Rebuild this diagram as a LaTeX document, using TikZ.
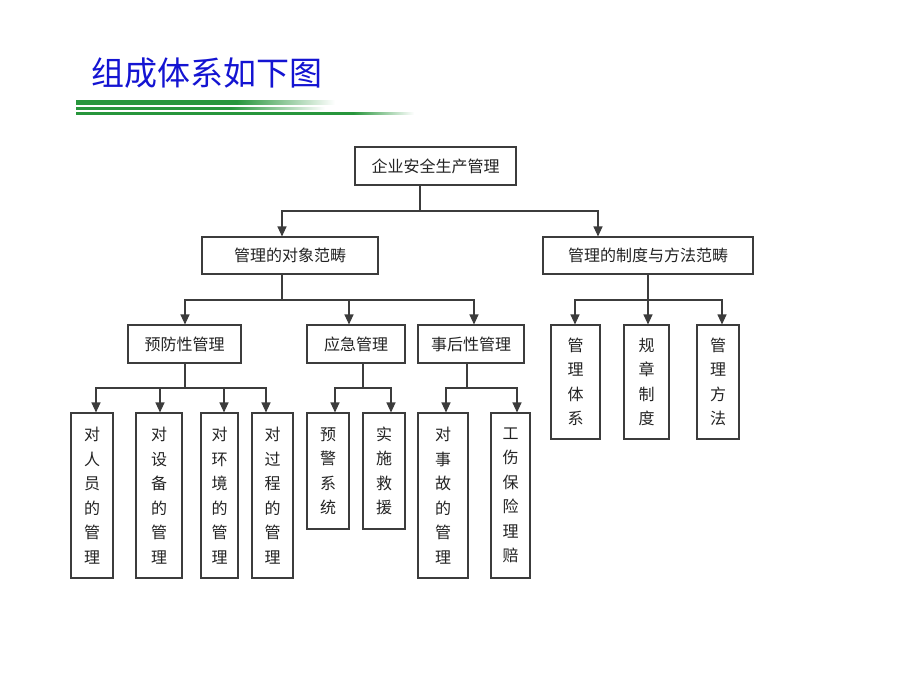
\documentclass[tikz,border=0pt]{standalone}
\usepackage{fontspec}
\newfontfamily\cjk{Noto Sans CJK SC}
\usetikzlibrary{arrows.meta}
\definecolor{titleblue}{RGB}{20,20,210}
\definecolor{lgreen}{RGB}{40,150,60}
\definecolor{boxline}{RGB}{60,60,60}
\definecolor{txt}{RGB}{35,35,35}
\pgfdeclarehorizontalshading{fadeA}{100bp}{color(0bp)=(lgreen); color(25bp)=(lgreen); color(56bp)=(lgreen); color(75bp)=(white); color(100bp)=(white)}
\pgfdeclarehorizontalshading{fadeB}{100bp}{color(0bp)=(lgreen); color(25bp)=(lgreen); color(66bp)=(lgreen); color(75bp)=(white); color(100bp)=(white)}
\begin{document}
\begin{tikzpicture}[x=1pt,y=-1pt,
  box/.style={draw=boxline,line width=1.1pt,inner sep=0pt,
    font=\cjk\fontsize{16}{24.5}\selectfont,text=txt,align=center},
  conn/.style={draw=boxline,line width=1.1pt},
  arr/.style={conn,-{Triangle[width=9pt,length=10pt]}}]
\useasboundingbox (0,0) rectangle (920,690);
\fill[white] (0,0) rectangle (920,690);

% title and decorative lines
\node[anchor=west,inner sep=0pt,font=\cjk\fontsize{33}{33}\selectfont,text=titleblue] (title) at (91,73) {组成体系如下图};
\shade[shading=fadeA] (76,101) rectangle (335,104.5);
\shade[shading=fadeA] (76,107.5) rectangle (325,110);
\shade[shading=fadeB] (76,113) rectangle (414,114.8);

% nodes
\node[box,minimum width=161pt,minimum height=38pt] (root) at (435.5,166) {企业安全生产管理};
\node[box,minimum width=176pt,minimum height=37pt] (l1a) at (290,255.5) {管理的对象范畴};
\node[box,minimum width=210pt,minimum height=37pt] (l1b) at (648,255.5) {管理的制度与方法范畴};

\node[box,minimum width=113pt,minimum height=38pt] (p1) at (184.5,344) {预防性管理};
\node[box,minimum width=98pt,minimum height=38pt] (p2) at (356,344) {应急管理};
\node[box,minimum width=106pt,minimum height=38pt] (p3) at (471,344) {事后性管理};

\node[box,minimum width=49pt,minimum height=114pt] (q1) at (575.5,382) {管\\理\\体\\系};
\node[box,minimum width=45pt,minimum height=114pt] (q2) at (646.5,382) {规\\章\\制\\度};
\node[box,minimum width=42pt,minimum height=114pt] (q3) at (718,382) {管\\理\\方\\法};

\node[box,minimum width=42pt,minimum height=165pt] (r1) at (92,495.5) {对\\人\\员\\的\\管\\理};
\node[box,minimum width=46pt,minimum height=165pt] (r2) at (159,495.5) {对\\设\\备\\的\\管\\理};
\node[box,minimum width=37pt,minimum height=165pt] (r3) at (219.5,495.5) {对\\环\\境\\的\\管\\理};
\node[box,minimum width=41pt,minimum height=165pt] (r4) at (272.5,495.5) {对\\过\\程\\的\\管\\理};

\node[box,minimum width=42pt,minimum height=116pt] (s1) at (328,471) {预\\警\\系\\统};
\node[box,minimum width=42pt,minimum height=116pt] (s2) at (384,471) {实\\施\\救\\援};

\node[box,minimum width=50pt,minimum height=165pt] (t1) at (443,495.5) {对\\事\\故\\的\\管\\理};
\node[box,minimum width=39pt,minimum height=165pt] (t2) at (510.5,495.5) {工\\伤\\保\\险\\理\\赔};

% connectors
\coordinate (j0) at (420,211);
\draw[conn] (root.south -| j0) -- (j0);
\draw[arr] (j0) -| ([xshift=-8pt]l1a.north);
\draw[arr] (j0) -| ([xshift=-50pt]l1b.north);

\coordinate (j1) at (282,300);
\draw[conn] (l1a.south -| j1) -- (j1);
\draw[arr] (j1) -| ([xshift=0.5pt]p1.north);
\draw[arr] (j1) -| ([xshift=-7pt]p2.north);
\draw[arr] (j1) -| ([xshift=3pt]p3.north);

\coordinate (j2) at (648,300);
\draw[conn] (l1b.south -| j2) -- (j2);
\draw[arr] (j2) -| ([xshift=-0.5pt]q1.north);
\draw[arr] (j2) -| ([xshift=1.5pt]q2.north);
\draw[arr] (j2) -| ([xshift=4pt]q3.north);

\coordinate (j3) at (185,388);
\draw[conn] (p1.south -| j3) -- (j3);
\draw[arr] (j3) -| ([xshift=4pt]r1.north);
\draw[arr] (j3) -| ([xshift=1pt]r2.north);
\draw[arr] (j3) -| ([xshift=4.5pt]r3.north);
\draw[arr] (j3) -| ([xshift=-6.5pt]r4.north);

\coordinate (j4) at (363,388);
\draw[conn] (p2.south -| j4) -- (j4);
\draw[arr] (j4) -| ([xshift=7pt]s1.north);
\draw[arr] (j4) -| ([xshift=7pt]s2.north);

\coordinate (j5) at (467,388);
\draw[conn] (p3.south -| j5) -- (j5);
\draw[arr] (j5) -| ([xshift=3pt]t1.north);
\draw[arr] (j5) -| ([xshift=6.5pt]t2.north);
\end{tikzpicture}
\end{document}
